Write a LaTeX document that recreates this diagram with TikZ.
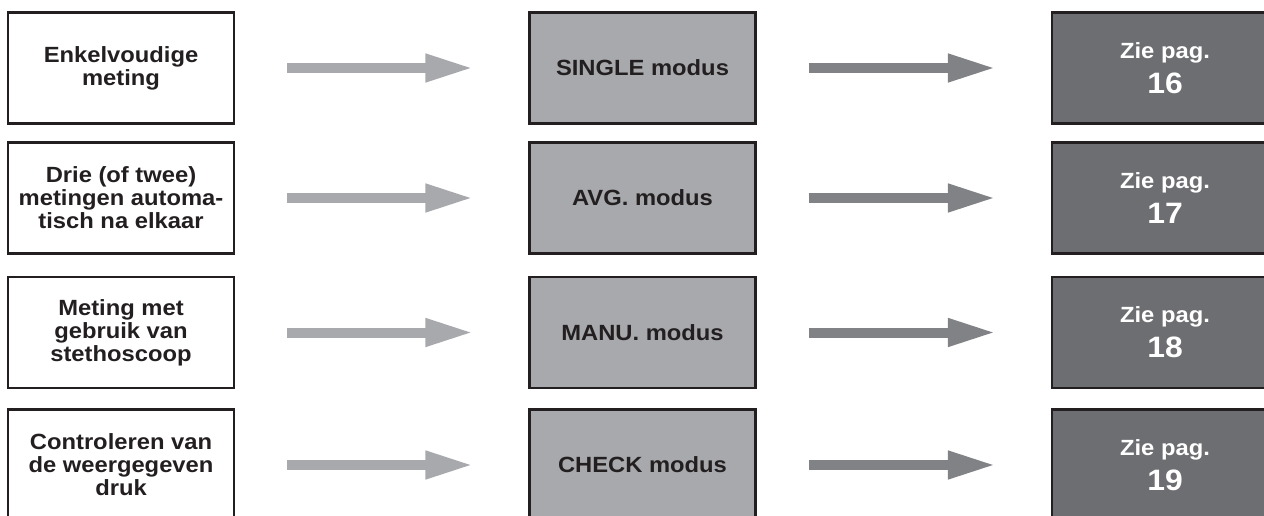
\documentclass[tikz,border=0pt]{standalone}
\usepackage{fontspec}
\setmainfont[FakeStretch=1.08]{Liberation Sans}
\usetikzlibrary{arrows.meta}

\definecolor{boxline}{HTML}{231F20}
\definecolor{modgray}{HTML}{A7A9AC}
\definecolor{paggray}{HTML}{6D6E71}
\definecolor{arrlight}{HTML}{A7A9AC}
\definecolor{arrdark}{HTML}{808285}

\newcommand{\pagnr}[1]{{\fontsize{29.5}{35}\selectfont #1}}
\tikzset{
  keuze/.style={draw=boxline, line width=2.2pt, fill=white, text=boxline,
    minimum width=226pt, minimum height=111pt, align=center,
    font={\bfseries\fontsize{22}{23}\selectfont}},
  modus/.style={keuze, fill=modgray},
  pagina/.style={keuze, fill=paggray, text=white,
    font={\bfseries\fontsize{22}{35}\selectfont}},
  pijl/.style={line width=10pt, shorten <=52pt, shorten >=55pt,
    -{Triangle[length=48pt, width=26pt]}},
}

\begin{document}
\begin{tikzpicture}[x=1pt, y=-1pt]
  \clip (0,0) rectangle (1264,516);
  \node[keuze] (in1) at (121, 68) {Enkelvoudige\\meting};
  \node[keuze] (in2) at (121, 198) {Drie (of twee)\\metingen automa-\\tisch na elkaar};
  \node[keuze] (in3) at (121, 332.5) {Meting met\\gebruik van\\stethoscoop};
  \node[keuze] (in4) at (121, 465) {Controleren van\\de weergegeven\\druk};
  \node[modus] (md1) at (642.5, 68) {SINGLE modus};
  \node[modus] (md2) at (642.5, 198) {AVG. modus};
  \node[modus] (md3) at (642.5, 332.5) {MANU. modus};
  \node[modus] (md4) at (642.5, 465) {CHECK modus};
  \node[pagina] (pg1) at (1165, 68) {Zie pag.\\\pagnr{16}};
  \node[pagina] (pg2) at (1165, 198) {Zie pag.\\\pagnr{17}};
  \node[pagina] (pg3) at (1165, 332.5) {Zie pag.\\\pagnr{18}};
  \node[pagina] (pg4) at (1165, 465) {Zie pag.\\\pagnr{19}};
  \draw[pijl, arrlight] (in1) -- (md1);
  \draw[pijl, arrlight] (in2) -- (md2);
  \draw[pijl, arrlight] (in3) -- (md3);
  \draw[pijl, arrlight] (in4) -- (md4);
  \draw[pijl, arrdark] (md1) -- (pg1);
  \draw[pijl, arrdark] (md2) -- (pg2);
  \draw[pijl, arrdark] (md3) -- (pg3);
  \draw[pijl, arrdark] (md4) -- (pg4);
\end{tikzpicture}
\end{document}
